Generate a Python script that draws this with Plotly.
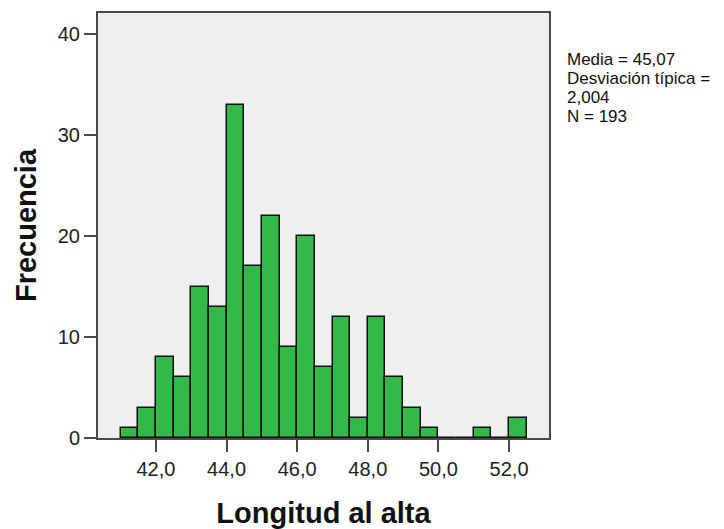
import plotly.graph_objects as go

# Histogram of discharge length (cm), 0.5 cm bins
bin_left = [41.0, 41.5, 42.0, 42.5, 43.0, 43.5, 44.0, 44.5, 45.0, 45.5,
            46.0, 46.5, 47.0, 47.5, 48.0, 48.5, 49.0, 49.5, 50.0, 50.5,
            51.0, 51.5, 52.0]
counts = [1, 3, 8, 6, 15, 13, 33, 17, 22, 9,
          20, 7, 12, 2, 12, 6, 3, 1, 0, 0,
          1, 0, 2]
bin_width = 0.5

x_tickvals = [42, 44, 46, 48, 50, 52]
x_ticktext = ["42,0", "44,0", "46,0", "48,0", "50,0", "52,0"]
y_tickvals = [0, 10, 20, 30, 40]

stats_lines = ["Media = 45,07", "Desviación típica =", "2,004", "N = 193"]

FONT = "Liberation Sans, Arial, sans-serif"
FRAME = "#4a4a4a"

centers = [b + bin_width / 2 for b in bin_left]

fig = go.Figure(
    go.Bar(
        x=centers,
        y=counts,
        width=bin_width,
        marker=dict(color="#33b84a", line=dict(color="#111111", width=1.5)),
        hoverinfo="x+y",
    )
)

axis_common = dict(
    showline=True,
    linecolor=FRAME,
    linewidth=2,
    mirror=True,
    ticks="outside",
    ticklen=12,
    tickwidth=2,
    tickcolor=FRAME,
    showgrid=False,
    zeroline=False,
    automargin=False,
    tickfont=dict(family=FONT, size=20, color="#222222"),
)

fig.update_xaxes(
    range=[40.36, 53.13],
    tickvals=x_tickvals,
    ticktext=x_ticktext,
    title=dict(text="<b>Longitud al alta</b>", standoff=24,
               font=dict(family=FONT, size=29, color="#111111")),
    **axis_common,
)
fig.update_yaxes(
    range=[0, 42.08],
    tickvals=y_tickvals,
    title=dict(text="<b>Frecuencia</b>", standoff=13,
               font=dict(family=FONT, size=29, color="#111111")),
    **axis_common,
)

# Summary statistics block to the right of the plot area
for i, line in enumerate(stats_lines):
    fig.add_annotation(
        x=1.0, y=1.0, xref="paper", yref="paper",
        xanchor="left", yanchor="top",
        xshift=16, yshift=-35 - 19 * i,
        text=line, showarrow=False,
        font=dict(family=FONT, size=17, color="#111111"),
    )

fig.update_layout(
    width=724,
    height=529,
    margin=dict(l=98, r=175, t=13, b=91),
    plot_bgcolor="#efefef",
    paper_bgcolor="#ffffff",
    showlegend=False,
    bargap=0,
)

fig.write_html("out.html")
